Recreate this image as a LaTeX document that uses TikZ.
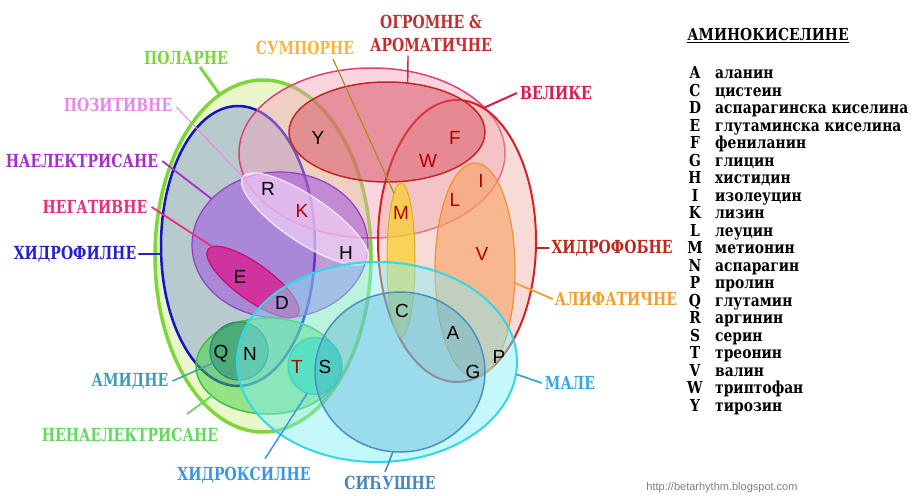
\documentclass[tikz,border=0pt]{standalone}
\usepackage{fontspec}
\usetikzlibrary{shapes.geometric}
\newfontfamily\labf[FakeStretch=0.78]{DejaVu Serif}
\newfontfamily\legf[FakeStretch=0.84]{DejaVu Serif}
\newfontfamily\letf{Liberation Sans}
\definecolor{polF}{HTML}{DCF3A8}\definecolor{polD}{HTML}{7ED63A}
\definecolor{bluF}{HTML}{A8BCD0}\definecolor{bluD}{HTML}{1414C0}
\definecolor{pinF}{HTML}{F4A0B8}\definecolor{pinD}{HTML}{E0407A}
\definecolor{redF}{HTML}{F0B0A8}\definecolor{redD}{HTML}{D82020}
\definecolor{aroF}{HTML}{D85060}\definecolor{aroD}{HTML}{C02828}
\definecolor{purF}{HTML}{A050E0}\definecolor{purD}{HTML}{9040C0}
\definecolor{posF}{HTML}{FCE0FC}\definecolor{posD}{HTML}{F8E8F8}
\definecolor{negF}{HTML}{E0108A}\definecolor{negD}{HTML}{C01070}
\definecolor{yelF}{HTML}{F8D030}\definecolor{yelD}{HTML}{D8B020}
\definecolor{oraF}{HTML}{F8A060}\definecolor{oraD}{HTML}{F09030}
\definecolor{uncF}{HTML}{40D040}\definecolor{uncD}{HTML}{40C040}
\definecolor{amiF}{HTML}{208870}\definecolor{amiD}{HTML}{2A8A6A}
\definecolor{hydF}{HTML}{10D0A0}\definecolor{hydD}{HTML}{20B090}
\definecolor{cyaF}{HTML}{80F0F8}\definecolor{cyaD}{HTML}{30D8E8}
\definecolor{tinF}{HTML}{4AA8D0}\definecolor{tinD}{HTML}{4A90C0}
\definecolor{dred}{HTML}{B00000}
\definecolor{cPL}{HTML}{7ED63A}\definecolor{cSU}{HTML}{F4B840}
\definecolor{cOG}{HTML}{C0302E}\definecolor{cVE}{HTML}{D81E50}
\definecolor{cPO}{HTML}{E888E8}\definecolor{cNE}{HTML}{A52FC8}
\definecolor{cNG}{HTML}{E8307A}\definecolor{cHF}{HTML}{2222C8}
\definecolor{cHB}{HTML}{B82A1E}\definecolor{cAL}{HTML}{F0A030}
\definecolor{cMA}{HTML}{34A8E0}\definecolor{cSI}{HTML}{4A86B8}
\definecolor{cHX}{HTML}{3898E8}\definecolor{cAM}{HTML}{3AA0B8}
\definecolor{cNN}{HTML}{64D860}
\begin{document}
\begin{tikzpicture}[x=1pt,y=-1pt,
  venn/.style={ellipse, inner sep=0pt, outer sep=0pt},
  lab/.style={font=\labf\bfseries\fontsize{18}{23}\selectfont, inner sep=0pt},
  lett/.style={font=\letf\fontsize{19}{19}\selectfont, inner sep=0pt},
  legk/.style={font=\legf\bfseries\fontsize{16.5}{16.5}\selectfont, inner sep=0pt, anchor=base},
  legv/.style={font=\legf\bfseries\fontsize{16.5}{16.5}\selectfont, inner sep=0pt, anchor=base west},
  conn/.style={line width=1.4pt}]
\useasboundingbox (0,0) rectangle (912,495);
\fill[white] (0,0) rectangle (912,495);
% ellipses
\node[venn, minimum width=216pt, minimum height=352pt, fill=polF, fill opacity=0.6, draw=polD, line width=3.5pt] (pol) at (263,256) {};
\node[venn, minimum width=154pt, minimum height=280pt, fill=bluF, fill opacity=0.75, draw=bluD, line width=2.5pt] (blu) at (238,246) {};
\node[venn, minimum width=266pt, minimum height=170pt, fill=pinF, fill opacity=0.45, draw=pinD, line width=1.5pt] (pin) at (372,153) {};
\node[venn, minimum width=158pt, minimum height=282pt, fill=redF, fill opacity=0.45, draw=redD, line width=2pt] (red) at (457,241) {};
\node[venn, minimum width=196pt, minimum height=100pt, fill=aroF, fill opacity=0.5, draw=aroD, line width=1.5pt] (aro) at (387,132) {};
\node[venn, minimum width=176pt, minimum height=146pt, fill=purF, fill opacity=0.55, draw=purD, line width=1.2pt] (pur) at (280,245) {};
\node[venn, rotate=-34, minimum width=150pt, minimum height=46pt, fill=posF, fill opacity=0.6, draw=posD, line width=1.2pt] (pos) at (305,219) {};
\node[venn, rotate=-36, minimum width=111pt, minimum height=36pt, fill=negF, fill opacity=0.7, draw=negD, line width=1.2pt] (neg) at (253,282) {};
\node[venn, minimum width=28pt, minimum height=154pt, fill=yelF, fill opacity=0.75, draw=yelD, line width=1pt] (yel) at (401,260) {};
\node[venn, minimum width=80pt, minimum height=214pt, fill=oraF, fill opacity=0.6, draw=oraD, line width=1.2pt] (ora) at (475,270) {};
\node[venn, minimum width=144pt, minimum height=96pt, fill=uncF, fill opacity=0.5, draw=uncD, line width=1.5pt] (unc) at (268,366) {};
\node[venn, minimum width=58pt, minimum height=58pt, fill=amiF, fill opacity=0.5, draw=amiD, line width=1.2pt] (ami) at (239,351) {};
\node[venn, minimum width=54pt, minimum height=57pt, fill=hydF, fill opacity=0.7, draw=hydD, line width=1.2pt] (hyd) at (315,366) {};
\node[venn, minimum width=280pt, minimum height=200pt, fill=cyaF, fill opacity=0.45, draw=cyaD, line width=2pt] (cya) at (377,362) {};
\node[venn, minimum width=170pt, minimum height=160pt, fill=tinF, fill opacity=0.35, draw=tinD, line width=1.5pt] (tin) at (400,372) {};
% letters
\node[lett] (lY) at (318,138) {Y};
\node[lett, text=dred] (lW) at (428,161) {W};
\node[lett, text=dred] (lF) at (455,138) {F};
\node[lett, text=dred] (lI) at (481,181) {I};
\node[lett, text=dred] (lL) at (455,200) {L};
\node[lett, text=dred] (lM) at (401,213) {M};
\node[lett, text=dred] (lV) at (482,254) {V};
\node[lett] (lR) at (268,189) {R};
\node[lett, text=dred] (lK) at (302,211) {K};
\node[lett] (lH) at (346,253) {H};
\node[lett] (lE) at (240,277) {E};
\node[lett] (lD) at (282,303) {D};
\node[lett] (lC) at (402,311) {C};
\node[lett] (lA) at (453,333) {A};
\node[lett] (lG) at (473,372) {G};
\node[lett] (lP) at (499,357) {P};
\node[lett] (lQ) at (221,354) {Q};
\node[lett] (lN) at (250,354) {N};
\node[lett, text=dred] (lT) at (297,367) {T};
\node[lett] (lS) at (325,367) {S};
% labels
\node[lab, text=cPL] (pl) at (186,58) {ПОЛАРНЕ};
\node[lab, text=cSU] (su) at (305,48) {СУМПОРНЕ};
\node[lab, text=cOG, align=center] (og) at (431,33) {ОГРОМНЕ \&\\АРОМАТИЧНЕ};
\node[lab, text=cVE] (ve) at (556,93) {ВЕЛИКЕ};
\node[lab, text=cPO] (po) at (118,105) {ПОЗИТИВНЕ};
\node[lab, text=cNE] (ne) at (82,161) {НАЕЛЕКТРИСАНЕ};
\node[lab, text=cNG] (ng) at (95,207) {НЕГАТИВНЕ};
\node[lab, text=cHF] (hf) at (75,254) {ХИДРОФИЛНЕ};
\node[lab, text=cHB] (hb) at (612,248) {ХИДРОФОБНЕ};
\node[lab, text=cAL] (al) at (616,299) {АЛИФАТИЧНЕ};
\node[lab, text=cMA] (ma) at (570,383) {МАЛЕ};
\node[lab, text=cSI] (si) at (390,483) {СИЋУШНЕ};
\node[lab, text=cHX] (hx) at (244,475) {ХИДРОКСИЛНЕ};
\node[lab, text=cAM] (am) at (130,381) {АМИДНЕ};
\node[lab, text=cNN] (nn) at (130,435) {НЕНАЕЛЕКТРИСАНЕ};
% connectors
\draw[conn, cPL, line width=3pt] ([xshift=14pt,yshift=-2pt]pl.south) -- (pol.105);
\draw[conn, color=yelD!80!black, line width=1.2pt] ([xshift=28pt,yshift=-4pt]su.south) -- (yel.96);
\draw[conn, cOG] ([xshift=-23pt,yshift=-4pt]og.south) -- (aro.67);
\draw[conn, cVE, line width=2pt] ([xshift=-3pt]ve.west) -- (pin.22);
\draw[conn, cPO, line width=1pt] ([xshift=4pt,yshift=-2pt]po.east) -- (pos.180);
\draw[conn, cNE, line width=1.8pt] ([xshift=4pt]ne.east) -- (pur.146);
\draw[conn, cNG, line width=1.8pt] ([xshift=4pt]ng.east) -- (neg.175);
\draw[conn, cHF, line width=1.8pt] ([xshift=2pt]hf.east) -- (blu.186);
\draw[conn, cHB, line width=1.8pt] ([xshift=-2pt]hb.west) -- (red.-5);
\draw[conn, cAL, line width=1.8pt] ([xshift=-2pt]al.west) -- (ora.-18);
\draw[conn, cMA, line width=1.8pt] ([xshift=-3pt]ma.west) -- (cya.-5);
\draw[conn, cSI, line width=1.5pt] ([xshift=-5pt,yshift=4pt]si.north) -- (tin.-95);
\draw[conn, cHX, line width=1.5pt] ([xshift=21pt,yshift=8pt]hx.north) -- (hyd.-106);
\draw[conn, cAM, line width=1.5pt] ([xshift=4pt]am.east) -- (ami.-155);
\draw[conn, cNN, line width=1.8pt] ([xshift=57pt,yshift=14pt]nn.north) -- (unc.-152);
% legend
\node[legk, anchor=base] (lt) at (768,41) {\underline{АМИНОКИСЕЛИНЕ}};
\foreach \k/\v [count=\i from 0] in {A/аланин, C/цистеин, D/аспарагинска киселина, E/глутаминска киселина, F/фениланин, G/глицин, H/хистидин, I/изолеуцин, K/лизин, L/леуцин, M/метионин, N/аспарагин, P/пролин, Q/глутамин, R/аргинин, S/серин, T/треонин, V/валин, W/триптофан, Y/тирозин}{
  \node[legk] (k\i) at (695,{78.5+17.5*\i}) {\k};
  \node[legv] (v\i) at (715,{78.5+17.5*\i}) {\v};
}
\node[font=\letf\fontsize{11}{11}\selectfont, text=gray, inner sep=0pt] (wm) at (722,488) {http://betarhythm.blogspot.com};
\end{tikzpicture}
\end{document}
